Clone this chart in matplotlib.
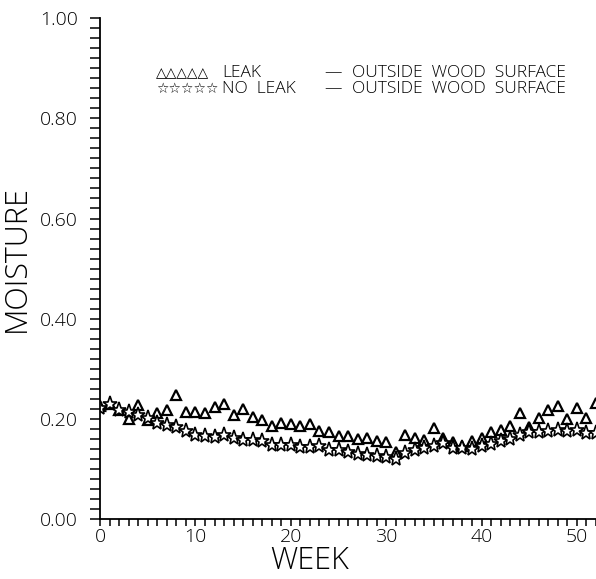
import matplotlib
matplotlib.use("Agg")
import matplotlib.pyplot as plt
from matplotlib.ticker import MultipleLocator

plt.rcParams['font.family'] = ['Open Sans', 'DejaVu Sans']

# weekly moisture readings, week 0..52
weeks = list(range(53))
leak = [0.226, 0.231, 0.219, 0.200, 0.229, 0.199, 0.213, 0.219, 0.249, 0.214,
        0.214, 0.212, 0.224, 0.231, 0.209, 0.221, 0.205, 0.198, 0.187, 0.193,
        0.190, 0.187, 0.191, 0.176, 0.174, 0.166, 0.167, 0.161, 0.163, 0.156,
        0.154, 0.134, 0.169, 0.163, 0.159, 0.183, 0.162, 0.155, 0.147, 0.157,
        0.163, 0.174, 0.179, 0.187, 0.213, 0.184, 0.203, 0.219, 0.226, 0.201,
        0.222, 0.203, 0.233]
no_leak = [0.223, 0.231, 0.219, 0.215, 0.208, 0.203, 0.193, 0.188, 0.185, 0.176,
           0.169, 0.166, 0.165, 0.169, 0.163, 0.159, 0.158, 0.156, 0.149, 0.149,
           0.149, 0.144, 0.144, 0.147, 0.139, 0.138, 0.135, 0.130, 0.129, 0.127,
           0.125, 0.121, 0.133, 0.139, 0.142, 0.147, 0.153, 0.143, 0.142, 0.140,
           0.147, 0.150, 0.156, 0.161, 0.169, 0.175, 0.174, 0.176, 0.179, 0.176,
           0.178, 0.172, 0.173]

fig = plt.figure(figsize=(5.96, 5.79), dpi=100)
ax = fig.add_axes([0.168, 0.103, 0.832, 0.866])

ax.plot(weeks, leak, linestyle='none', marker='^', markersize=7.5,
        markerfacecolor='white', markeredgecolor='black', markeredgewidth=1.6)
ax.plot(weeks, no_leak, linestyle='none', marker='*', markersize=11,
        markerfacecolor='white', markeredgecolor='black', markeredgewidth=1.2)

ax.set_xlim(0, 52)
ax.set_ylim(0, 1.0)
ax.spines['top'].set_visible(False)
ax.spines['right'].set_visible(False)
ax.spines['left'].set_linewidth(1.3)
ax.spines['bottom'].set_linewidth(1.3)

ax.xaxis.set_major_locator(MultipleLocator(10))
ax.xaxis.set_minor_locator(MultipleLocator(1))
ax.yaxis.set_major_locator(MultipleLocator(0.2))
ax.yaxis.set_minor_locator(MultipleLocator(0.02))
ax.set_yticklabels([f"{v:.2f}" for v in ax.get_yticks()])
for lab in ax.get_xticklabels() + ax.get_yticklabels():
    lab.set_fontweight('light')
ax.tick_params(axis='both', which='both', direction='out', width=1.1,
               labelsize=14, colors='black')
ax.tick_params(axis='x', which='both', length=5, pad=1)
ax.tick_params(axis='y', which='both', length=7, pad=9)

ax.set_xlabel("WEEK", fontsize=22, fontweight='light')
ax.set_ylabel("MOISTURE", fontsize=22, fontweight='light')
ax.xaxis.set_label_coords(0.423, -0.052)
ax.yaxis.set_label_coords(-0.136, 0.52)

# legend drawn as text columns, two rows each
kw = dict(transform=ax.transAxes, va='center', fontsize=12.5,
          fontweight='light', linespacing=0.95)
ax.text(0.113, 0.874, "\u25b3\u25b3\u25b3\u25b3\u25b3\n\u2606\u2606\u2606\u2606\u2606",
        transform=ax.transAxes, fontsize=10, va='center', linespacing=1.15,
        family=['DejaVu Sans'])
ax.text(0.246, 0.874, "LEAK\nNO  LEAK", **kw)
ax.text(0.452, 0.874, "\u2014\n\u2014", **kw)
ax.text(0.508, 0.874, "OUTSIDE  WOOD  SURFACE\nOUTSIDE  WOOD  SURFACE", **kw)

fig.savefig("out.png", dpi=100)
